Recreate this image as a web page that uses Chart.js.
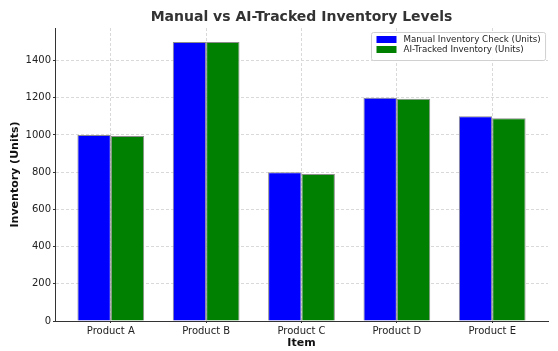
<!DOCTYPE html>
<html>
<head>
<meta charset="utf-8">
<script src="https://cdn.jsdelivr.net/npm/chart.js@4/dist/chart.umd.min.js"></script>
<style>
  html, body { margin: 0; padding: 0; background: #fff; }
  #wrap { width: 558px; height: 351px; }
</style>
</head>
<body>
<div id="wrap"><canvas id="chart" width="558" height="351"></canvas></div>
<script>
const categories = ["Product A", "Product B", "Product C", "Product D", "Product E"];
const manualCounts = [1000, 1500, 800, 1200, 1100];
const aiCounts = [995, 1500, 790, 1195, 1090];
const yTicks = [0, 200, 400, 600, 800, 1000, 1200, 1400];

const titleText = "Manual vs AI-Tracked Inventory Levels";
const seriesNames = ["Manual Inventory Check (Units)", "AI-Tracked Inventory (Units)"];
const seriesColors = ["#0000ff", "#008000"];

const FONT = "'DejaVu Sans', sans-serif";

// title centred over the axes, like matplotlib does it
const titlePlugin = {
    id: "axesTitle",
    afterDraw(chart) {
        const { ctx, chartArea } = chart;
        ctx.save();
        ctx.font = "bold 14px " + FONT;
        ctx.fillStyle = "#333";
        ctx.textAlign = "center";
        ctx.textBaseline = "middle";
        ctx.fillText(titleText, (chartArea.left + chartArea.right) / 2, 17);
        ctx.restore();
    }
};

// legend box in the upper right corner of the plot
const legendPlugin = {
    id: "innerLegend",
    afterDraw(chart) {
        const { ctx, chartArea } = chart;
        ctx.save();
        ctx.font = "8.7px " + FONT;
        const textW = Math.max(...seriesNames.map(s => ctx.measureText(s).width));
        const w = 5 + 20 + 7 + textW + 5;
        const h = 28;
        const x0 = Math.round(chartArea.right - 3 - w) + 0.5;
        const y0 = chartArea.top + 4.5;
        ctx.fillStyle = "rgba(255,255,255,0.85)";
        ctx.strokeStyle = "#d0d0d0";
        ctx.lineWidth = 1;
        ctx.beginPath();
        ctx.roundRect(x0, y0, w, h, 2);
        ctx.fill();
        ctx.stroke();
        seriesNames.forEach((name, i) => {
            const cy = y0 + 7 + i * 10;
            ctx.fillStyle = seriesColors[i];
            ctx.fillRect(x0 + 5, cy - 3.5, 20, 7);
            ctx.fillStyle = "#222";
            ctx.textAlign = "left";
            ctx.textBaseline = "middle";
            ctx.fillText(name, x0 + 32, cy);
        });
        ctx.restore();
    }
};

const toPoints = vals => vals.map((v, i) => ({ x: i, y: v }));

new Chart(document.getElementById("chart").getContext("2d"), {
    type: "bar",
    data: {
        datasets: [
            {
                label: seriesNames[0],
                data: toPoints(manualCounts),
                backgroundColor: seriesColors[0],
                borderColor: "#8c8c8c",
                borderWidth: 1,
                categoryPercentage: 0.7,
                barPercentage: 1.0
            },
            {
                label: seriesNames[1],
                data: toPoints(aiCounts),
                backgroundColor: seriesColors[1],
                borderColor: "#8c8c8c",
                borderWidth: 1,
                categoryPercentage: 0.7,
                barPercentage: 1.0
            }
        ]
    },
    options: {
        responsive: false,
        animation: false,
        layout: { padding: { top: 28, right: 10, left: 0, bottom: 0 } },
        plugins: {
            legend: { display: false },
            title: { display: false },
            tooltip: { enabled: false }
        },
        scales: {
            x: {
                type: "linear",
                min: -0.585,
                max: 4.585,
                offset: false,
                afterFit: scale => { scale.height = 30; },
                afterBuildTicks: axis => {
                    axis.ticks = categories.map((c, i) => ({ value: i }));
                },
                ticks: {
                    includeBounds: false,
                    autoSkip: false,
                    maxRotation: 0,
                    padding: 2,
                    color: "#222",
                    font: { family: FONT, size: 10 },
                    callback: v => categories[v]
                },
                grid: {
                    offset: false,
                    color: "#d9d9d9",
                    drawTicks: true,
                    tickLength: 2,
                    tickColor: "#333"
                },
                border: { display: true, color: "#333", width: 1, dash: [3, 2] },
                title: {
                    display: true,
                    text: "Item",
                    color: "#111",
                    font: { family: FONT, size: 11, weight: "bold" },
                    padding: { top: 0, bottom: 1 }
                }
            },
            y: {
                min: 0,
                max: 1575,
                afterFit: scale => { scale.width = 55; },
                afterBuildTicks: axis => {
                    axis.ticks = yTicks.map(v => ({ value: v }));
                },
                ticks: {
                    includeBounds: false,
                    padding: 2,
                    color: "#222",
                    font: { family: FONT, size: 10 },
                    callback: v => String(v)
                },
                grid: {
                    color: "#d9d9d9",
                    drawTicks: true,
                    tickLength: 2,
                    tickColor: "#333"
                },
                border: { display: true, color: "#333", width: 1, dash: [3, 2] },
                title: {
                    display: true,
                    text: "Inventory (Units)",
                    color: "#111",
                    font: { family: FONT, size: 11, weight: "bold" },
                    padding: { top: 9, bottom: 0 }
                }
            }
        }
    },
    plugins: [titlePlugin, legendPlugin]
});
</script>
</body>
</html>
